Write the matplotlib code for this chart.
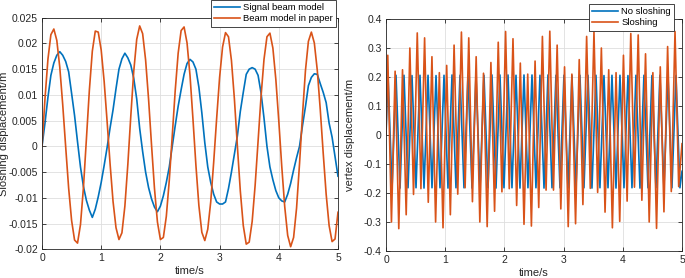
import numpy as np
import matplotlib
matplotlib.use("Agg")
import matplotlib.pyplot as plt
from matplotlib.ticker import FuncFormatter, MultipleLocator

# --------------------------------------------------------------------------- #
# Data
# --------------------------------------------------------------------------- #
# left panel: sloshing displacement, sampled every 0.05 s from 0 to 5 s
time_left = np.round(np.arange(0, 5.0001, 0.05), 2)

signal_beam = [
    0.0, 0.0045, 0.0095, 0.0138, 0.0162, 0.0177, 0.0184, 0.0177, 0.0165, 0.0145,
    0.0103, 0.0060, 0.0009, -0.0040, -0.0078, -0.0105, -0.0124, -0.0138, -0.0122, -0.0098,
    -0.0070, -0.0037, -0.0002, 0.0036, 0.0071, 0.0112, 0.0150, 0.0170, 0.0181, 0.0172,
    0.0158, 0.0132, 0.0092, 0.0035, -0.0010, -0.0050, -0.0080, -0.0102, -0.0118, -0.0127,
    -0.0116, -0.0096, -0.0070, -0.0040, 0.0000, 0.0040, 0.0078, 0.0110, 0.0140, 0.0161,
    0.0169, 0.0164, 0.0150, 0.0115, 0.0065, 0.0007, -0.0040, -0.0070, -0.0093, -0.0108,
    -0.0112, -0.0112, -0.0108, -0.0082, -0.0050, -0.0015, 0.0020, 0.0068, 0.0105, 0.0140,
    0.0150, 0.0153, 0.0150, 0.0138, 0.0104, 0.0055, 0.0000, -0.0040, -0.0065, -0.0086,
    -0.0100, -0.0106, -0.0108, -0.0093, -0.0072, -0.0046, -0.0022, 0.0000, 0.0040, 0.0077,
    0.0118, 0.0134, 0.0141, 0.0140, 0.0122, 0.0105, 0.0085, 0.0045, 0.0018, -0.0020,
    -0.0058,
]

paper_beam = [
    0.0, 0.0092, 0.0169, 0.0217, 0.0228, 0.0206, 0.0154, 0.0081, -0.0001, -0.0081,
    -0.0144, -0.0182, -0.0188, -0.0152, -0.0080, 0.0014, 0.0109, 0.0185, 0.0224, 0.0222,
    0.0187, 0.0126, 0.0048, -0.0034, -0.0107, -0.0158, -0.0181, -0.0168, -0.0116, -0.0035,
    0.0059, 0.0146, 0.0208, 0.0234, 0.0219, 0.0168, 0.0092, 0.0003, -0.0082, -0.0147,
    -0.0181, -0.0177, -0.0136, -0.0066, 0.0020, 0.0108, 0.0181, 0.0225, 0.0232, 0.0201,
    0.0138, 0.0053, -0.0037, -0.0115, -0.0167, -0.0183, -0.0161, -0.0108, -0.0031, 0.0054,
    0.0134, 0.0193, 0.0221, 0.0213, 0.0167, 0.0092, 0.0001, -0.0087, -0.0154, -0.0190,
    -0.0186, -0.0146, -0.0076, 0.0010, 0.0097, 0.0169, 0.0213, 0.0220, 0.0191, 0.0130,
    0.0049, -0.0039, -0.0117, -0.0173, -0.0195, -0.0177, -0.0120, -0.0034, 0.0061, 0.0147,
    0.0204, 0.0222, 0.0201, 0.0148, 0.0072, -0.0013, -0.0093, -0.0154, -0.0185, -0.0180,
    -0.0128,
]

# right panel: vertex displacement, peaks and troughs of each oscillation
nos_peak_t = [0.034, 0.169, 0.304, 0.439, 0.574, 0.710, 0.845, 0.980, 1.115, 1.250,
              1.385, 1.520, 1.655, 1.790, 1.925, 2.061, 2.196, 2.331, 2.466, 2.601,
              2.736, 2.871, 3.006, 3.141, 3.276, 3.412, 3.547, 3.682, 3.817, 3.952,
              4.087, 4.222, 4.357, 4.492, 4.627, 4.763, 4.898]
nos_peak_y = [0.205, 0.206, 0.206, 0.205, 0.206, 0.206, 0.205, 0.206, 0.207, 0.206,
              0.206, 0.205, 0.206, 0.207, 0.207, 0.207, 0.206, 0.207, 0.207, 0.206,
              0.207, 0.206, 0.206, 0.205, 0.206, 0.206, 0.206, 0.205, 0.206, 0.206,
              0.205, 0.206, 0.206, 0.205, 0.206, 0.206, 0.205]
nos_trough_t = [0.102, 0.237, 0.372, 0.507, 0.642, 0.777, 0.912, 1.047, 1.182, 1.317,
                1.453, 1.588, 1.723, 1.858, 1.993, 2.128, 2.263, 2.398, 2.533, 2.669,
                2.804, 2.939, 3.074, 3.209, 3.344, 3.479, 3.614, 3.750, 3.885, 4.020,
                4.155, 4.290, 4.425, 4.560, 4.695, 4.830, 4.965]
nos_trough_y = [-0.182, -0.183, -0.182, -0.182, -0.183, -0.182, -0.182, -0.183, -0.182, -0.182,
                -0.183, -0.182, -0.182, -0.183, -0.182, -0.182, -0.183, -0.182, -0.182, -0.183,
                -0.182, -0.182, -0.183, -0.182, -0.182, -0.183, -0.182, -0.182, -0.183, -0.182,
                -0.182, -0.183, -0.182, -0.182, -0.183, -0.182, -0.182]
nos_end = [(0.0, 0.0), (5.0, -0.125)]

slo_peak_t = [0.030, 0.154, 0.279, 0.403, 0.528, 0.652, 0.776, 0.901, 1.025, 1.150,
              1.274, 1.398, 1.523, 1.647, 1.772, 1.896, 2.020, 2.145, 2.269, 2.394,
              2.518, 2.642, 2.767, 2.891, 3.016, 3.140, 3.264, 3.389, 3.513, 3.638,
              3.762, 3.886, 4.011, 4.135, 4.260, 4.384, 4.508, 4.633, 4.757, 4.882]
slo_peak_y = [0.275, 0.220, 0.225, 0.300, 0.352, 0.335, 0.270, 0.215, 0.240, 0.310,
              0.355, 0.335, 0.270, 0.213, 0.250, 0.320, 0.357, 0.332, 0.248, 0.210,
              0.255, 0.340, 0.358, 0.310, 0.235, 0.210, 0.260, 0.340, 0.355, 0.300,
              0.225, 0.215, 0.275, 0.350, 0.345, 0.280, 0.215, 0.235, 0.305, 0.357]
slo_trough_t = [0.092, 0.216, 0.341, 0.465, 0.590, 0.714, 0.838, 0.963, 1.087, 1.212,
                1.336, 1.460, 1.585, 1.709, 1.834, 1.958, 2.082, 2.207, 2.331, 2.456,
                2.580, 2.704, 2.829, 2.953, 3.078, 3.202, 3.326, 3.451, 3.575, 3.700,
                3.824, 3.948, 4.073, 4.197, 4.322, 4.446, 4.570, 4.695, 4.819, 4.944]
slo_trough_y = [-0.300, -0.323, -0.275, -0.205, -0.185, -0.232, -0.300, -0.320, -0.275, -0.204,
                -0.182, -0.230, -0.300, -0.316, -0.263, -0.196, -0.185, -0.243, -0.308, -0.314,
                -0.250, -0.190, -0.190, -0.255, -0.316, -0.306, -0.240, -0.184, -0.198, -0.266,
                -0.320, -0.298, -0.228, -0.180, -0.225, -0.300, -0.322, -0.265, -0.195, -0.178]
slo_end = [(0.0, 0.0), (5.0, -0.03)]

BLUE = "#0072BD"
ORANGE = "#D95319"


def merge_extremes(pt, py, tt, ty, ends):
    t = np.concatenate([pt, tt, [e[0] for e in ends]])
    y = np.concatenate([py, ty, [e[1] for e in ends]])
    order = np.argsort(t)
    return t[order], y[order]


def matlab_axes(ax):
    ax.tick_params(direction="in", length=3, width=0.6, labelsize=7.5,
                   colors="0.15", top=True, right=True, pad=3)
    for s in ax.spines.values():
        s.set_color("0.15")
        s.set_linewidth(0.6)
    ax.grid(True, color="0.87", linewidth=0.6)
    ax.set_axisbelow(True)
    ax.yaxis.set_major_formatter(FuncFormatter(lambda v, p: "%g" % round(v, 4)))
    ax.xaxis.set_major_formatter(FuncFormatter(lambda v, p: "%g" % v))


def matlab_legend(ax, anchor):
    leg = ax.legend(loc="upper right", bbox_to_anchor=anchor,
                    bbox_transform=fig.transFigure, fontsize=6.8, frameon=True,
                    fancybox=False, edgecolor="0.15", borderpad=0.35,
                    handlelength=2.7, labelspacing=0.2, handletextpad=0.35,
                    borderaxespad=0, framealpha=1)
    leg.get_frame().set_linewidth(0.6)
    return leg


fig = plt.figure(figsize=(6.85, 2.78), dpi=100)
plt.rcParams["font.family"] = ["Liberation Sans", "DejaVu Sans"]

# --- left panel --- #
ax1 = fig.add_axes([42 / 685, 1 - 249.3 / 278, 296 / 685, 231.6 / 278])
ax1.plot(time_left, signal_beam, color=BLUE, lw=1.2, label="Signal beam model")
ax1.plot(time_left, paper_beam, color=ORANGE, lw=1.2, label="Beam model in paper")
ax1.set_xlim(0, 5)
ax1.set_ylim(-0.02, 0.025)
ax1.xaxis.set_major_locator(MultipleLocator(1))
ax1.yaxis.set_major_locator(MultipleLocator(0.005))
matlab_axes(ax1)
ax1.set_xlabel("time/s", fontsize=8, color="0.15", labelpad=2)
ax1.set_ylabel("Sloshing displacement/m", fontsize=8, color="0.15")
ax1.yaxis.set_label_coords(-0.112, 0.5)
matlab_legend(ax1, (336 / 685, 1.0))

# --- right panel --- #
ax2 = fig.add_axes([386 / 685, 1 - 251 / 278, 296 / 685, 232 / 278])
t_nos, y_nos = merge_extremes(nos_peak_t, nos_peak_y, nos_trough_t, nos_trough_y, nos_end)
t_slo, y_slo = merge_extremes(slo_peak_t, slo_peak_y, slo_trough_t, slo_trough_y, slo_end)
ax2.plot(t_nos, y_nos, color=BLUE, lw=1.2, label="No sloshing")
ax2.plot(t_slo, y_slo, color=ORANGE, lw=1.2, label="Sloshing")
ax2.set_xlim(0, 5)
ax2.set_ylim(-0.4, 0.4)
ax2.xaxis.set_major_locator(MultipleLocator(1))
ax2.yaxis.set_major_locator(MultipleLocator(0.1))
matlab_axes(ax2)
ax2.set_xlabel("time/s", fontsize=8, color="0.15", labelpad=2)
ax2.set_ylabel("vertex displacement/m", fontsize=8, color="0.15")
ax2.yaxis.set_label_coords(-0.105, 0.5)
matlab_legend(ax2, (674 / 685, 1 - 4 / 278))

fig.savefig("out.png", dpi=100)
